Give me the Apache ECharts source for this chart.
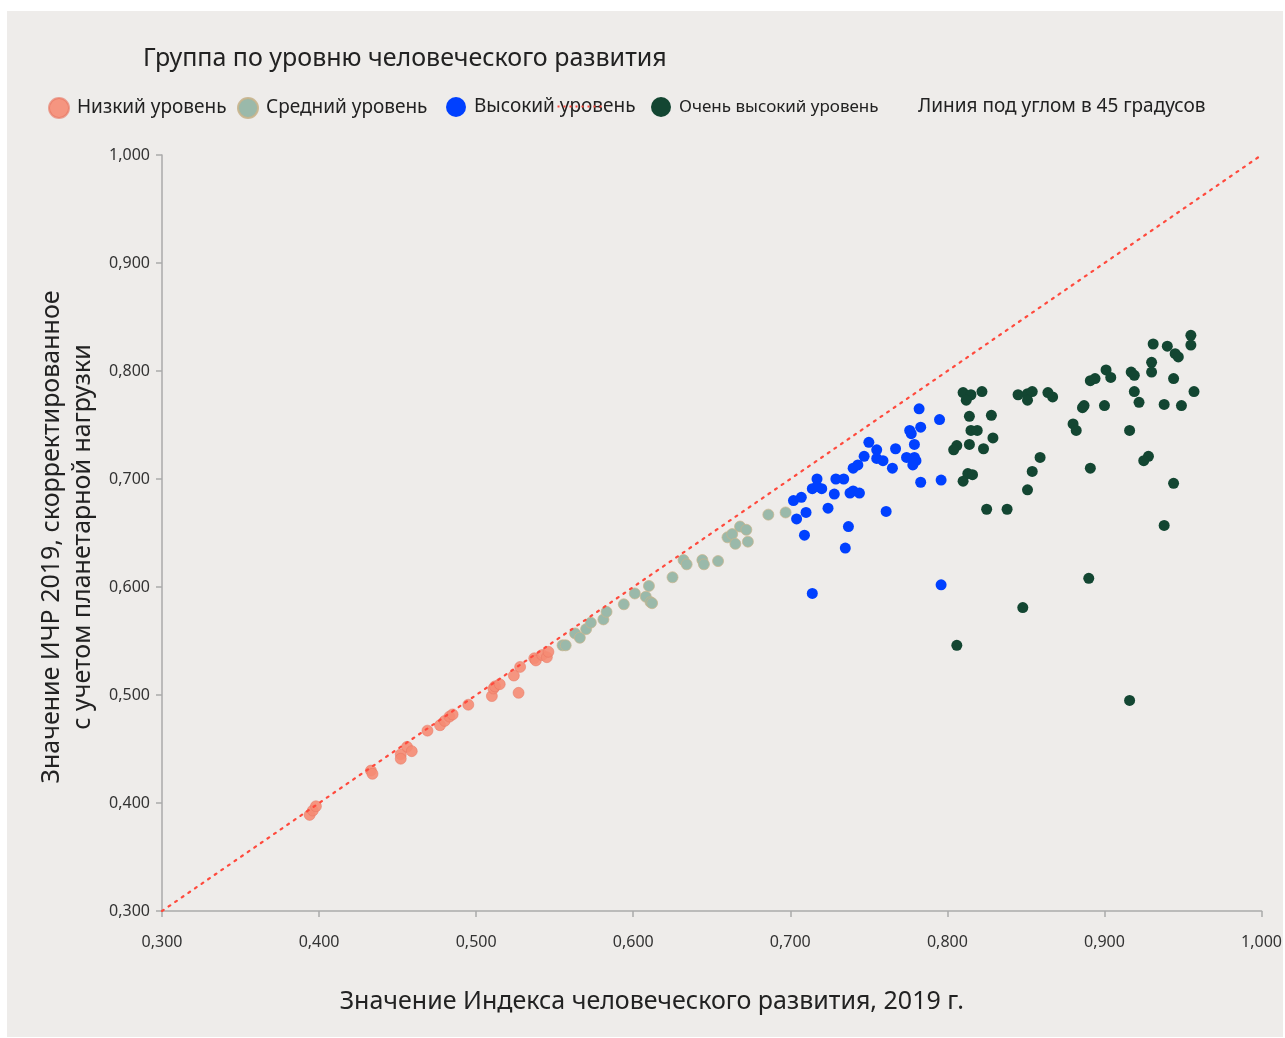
<!DOCTYPE html>
<html><head><meta charset="utf-8">
<script src="https://cdn.jsdelivr.net/npm/echarts@6/dist/echarts.min.js"></script>
<style>
html,body{margin:0;padding:0;background:#fff;}
#panel{position:absolute;left:7px;top:11px;width:1276px;height:1026px;background:#eeecea;}
#chart{position:absolute;left:0;top:0;width:1285px;height:1038px;}
</style></head>
<body><div id="panel"></div><div id="chart"></div>
<script>
const seriesNames = ['Низкий уровень','Средний уровень','Высокий уровень','Очень высокий уровень','Линия под углом в 45 градусов'];
const tickValues = [0.3,0.4,0.5,0.6,0.7,0.8,0.9,1.0];

const lowHdi = [
[0.394,0.389],[0.396,0.393],[0.398,0.397],[0.433,0.430],[0.434,0.427],[0.452,0.445],[0.452,0.441],
[0.456,0.452],[0.459,0.448],[0.469,0.467],[0.477,0.472],[0.480,0.476],[0.483,0.480],[0.485,0.482],
[0.495,0.491],[0.510,0.499],[0.511,0.506],[0.512,0.508],[0.515,0.510],[0.524,0.518],[0.527,0.502],
[0.528,0.526],[0.537,0.534],[0.538,0.532],[0.542,0.537],[0.545,0.535],[0.546,0.540]
];
const mediumHdi = [
[0.555,0.546],[0.557,0.546],[0.563,0.557],[0.566,0.553],[0.570,0.561],[0.573,0.567],[0.581,0.570],
[0.583,0.577],[0.594,0.584],[0.601,0.594],[0.608,0.591],[0.610,0.601],[0.611,0.586],[0.612,0.585],
[0.625,0.609],[0.632,0.625],[0.634,0.621],[0.644,0.625],[0.645,0.621],[0.654,0.624],[0.660,0.646],
[0.663,0.649],[0.665,0.640],[0.668,0.656],[0.672,0.653],[0.673,0.642],[0.686,0.667],[0.697,0.669]
];
const highHdi = [
[0.782,0.765],[0.795,0.755],[0.783,0.748],[0.776,0.745],[0.777,0.742],[0.779,0.732],[0.750,0.734],
[0.767,0.728],[0.755,0.727],[0.774,0.720],[0.747,0.721],[0.755,0.719],[0.759,0.717],[0.779,0.720],
[0.780,0.717],[0.778,0.713],[0.743,0.713],[0.740,0.710],[0.765,0.710],[0.717,0.700],[0.729,0.700],
[0.734,0.700],[0.714,0.691],[0.717,0.693],[0.720,0.691],[0.783,0.697],[0.796,0.699],[0.707,0.683],
[0.702,0.680],[0.738,0.687],[0.740,0.689],[0.744,0.687],[0.728,0.686],[0.710,0.669],[0.704,0.663],
[0.724,0.673],[0.761,0.670],[0.737,0.656],[0.709,0.648],[0.735,0.636],[0.796,0.602],[0.714,0.594]
];
const veryHighHdi = [
[0.810,0.780],[0.815,0.778],[0.812,0.773],[0.822,0.781],[0.845,0.778],[0.851,0.779],[0.854,0.781],
[0.851,0.773],[0.864,0.780],[0.867,0.776],[0.814,0.758],[0.828,0.759],[0.815,0.745],[0.819,0.745],
[0.829,0.738],[0.814,0.732],[0.806,0.731],[0.804,0.727],[0.823,0.728],[0.859,0.720],[0.854,0.707],
[0.813,0.705],[0.816,0.704],[0.810,0.698],[0.851,0.690],[0.825,0.672],[0.838,0.672],[0.806,0.546],
[0.848,0.581],[0.890,0.608],[0.916,0.495],[0.955,0.833],[0.931,0.825],[0.940,0.823],[0.955,0.824],
[0.945,0.816],[0.947,0.813],[0.930,0.808],[0.930,0.799],[0.901,0.801],[0.904,0.794],[0.891,0.791],
[0.894,0.793],[0.917,0.799],[0.919,0.796],[0.944,0.793],[0.957,0.781],[0.919,0.781],[0.922,0.771],
[0.938,0.769],[0.949,0.768],[0.900,0.768],[0.887,0.768],[0.886,0.766],[0.880,0.751],[0.882,0.745],
[0.916,0.745],[0.928,0.721],[0.925,0.717],[0.891,0.710],[0.944,0.696],[0.938,0.657]
];
const diagonalLine = [[0.3,0.3],[1.0,1.0]];

const fmt = v => v.toFixed(3).replace('.', ',');
const txt = '#333333';
const font = 'Noto Sans';

const chart = echarts.init(document.getElementById('chart'), null, {renderer:'canvas'});
function sc(name, data, color, extra){
  return {
    name: name, type:'scatter', data: data, symbolSize: 11,
    itemStyle: Object.assign({color: color, opacity: 1}, extra || {}),
    emphasis:{disabled:true}, z: 2
  };
}
function leg(name, left, icon, size){
  return {
    data:[{name: name, icon: icon}],
    left: left, top: 97, padding: 0, itemWidth: icon === 'none' ? 0 : 20, itemHeight: 20, itemGap: 0,
    textStyle:{fontFamily: font, fontSize: size, color: '#222', padding:[0,0,0,icon === 'none' ? 0 : 3]},
    selectedMode: false
  };
}
chart.setOption({
  animation: false,
  backgroundColor: 'transparent',
  title: {
    text: 'Группа по уровню человеческого развития',
    left: 143, top: 46, padding: 0,
    textStyle: {fontFamily: font, fontSize: 25, fontWeight: 'normal', color: '#222'}
  },
  legend: [
    leg(seriesNames[0], 48, 'circle', 19),
    leg(seriesNames[1], 237, 'circle', 19),
    leg(seriesNames[2], 446, 'circle', 19),
    leg(seriesNames[3], 651, 'circle', 17),
    leg(seriesNames[4], 913, 'none', 19)
  ],
  graphic: [{
    type: 'line', left: 555, top: 104,
    shape: {x1: 0, y1: 0, x2: 44, y2: 0},
    style: {stroke: '#ff4a3d', lineWidth: 2, lineDash: [2, 4]}, z: 100
  }],
  grid: {left: 162, right: 22, top: 155, bottom: 127},
  xAxis: {
    type: 'value', min: 0.3, max: 1.0, interval: 0.1,
    name: 'Значение Индекса человеческого развития, 2019 г.',
    nameLocation: 'middle', nameGap: 78,
    nameTextStyle: {fontFamily: font, fontSize: 25, color: '#222', padding: [0, 120, 0, 0]},
    axisLine: {show: true, lineStyle: {color: '#aaaaaa', width: 1.5}},
    axisTick: {show: true, length: 6, lineStyle: {color: '#aaaaaa', width: 1.5}},
    axisLabel: {formatter: fmt, fontFamily: font, fontSize: 16, color: txt, margin: 23},
    splitLine: {show: false}
  },
  yAxis: {
    type: 'value', min: 0.3, max: 1.0, interval: 0.1,
    name: 'Значение ИЧР 2019, скорректированное\nс учетом планетарной нагрузки',
    nameLocation: 'middle', nameGap: 62, nameRotate: 90,
    nameTextStyle: {fontFamily: font, fontSize: 25, color: '#222', lineHeight: 31, padding: [0, 8, 0, 0]},
    axisLine: {show: true, lineStyle: {color: '#aaaaaa', width: 1.5}},
    axisTick: {show: true, length: 6, lineStyle: {color: '#aaaaaa', width: 1.5}},
    axisLabel: {formatter: fmt, fontFamily: font, fontSize: 16, color: txt, margin: 12},
    splitLine: {show: false}
  },
  series: [
    sc(seriesNames[0], lowHdi, '#f58c74', {borderColor:'rgba(232,115,95,0.7)', borderWidth: 0.8, opacity: 0.9}),
    sc(seriesNames[1], mediumHdi, '#9ab9aa', {borderColor:'rgba(200,180,140,0.9)', borderWidth: 0.8}),
    sc(seriesNames[2], highHdi, '#0040ff'),
    sc(seriesNames[3], veryHighHdi, '#134632'),
    {
      name: seriesNames[4], type: 'line', data: diagonalLine, symbol: 'none', z: 5,
      lineStyle: {color: '#ff4a3d', width: 2.2, type: [2, 6], cap: 'round'},
      itemStyle: {color: '#ff4a3d'},
      emphasis: {disabled: true}
    }
  ]
});
</script></body></html>
